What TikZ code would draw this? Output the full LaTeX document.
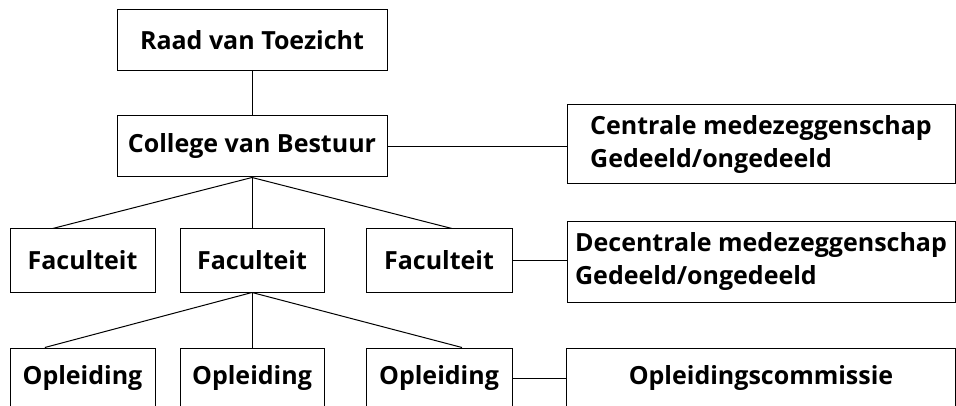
\documentclass[tikz,border=0pt]{standalone}
\usepackage{fontspec}
\setmainfont{Open Sans}
\usepackage{tikz}

\begin{document}
\begin{tikzpicture}[x=1pt,y=-1pt,
    kast/.style={draw,line width=1pt,minimum height=61pt,inner sep=0pt,
      font=\fontsize{25}{33}\selectfont\bfseries},
    lijn/.style={line width=1pt}]
    \clip (0,0) rectangle (956,406);
    \fill[white] (0,0) rectangle (956,406);
  %Bestuur
    \node[kast,minimum width=270pt] (rvt) at (252,40.5) {Raad van Toezicht};
    \node[kast,minimum width=270pt] (cvb) at (252,146.5) {College van Bestuur};
    \node[kast,minimum width=388pt,minimum height=79pt,align=left] (cmz) at (761,144.5)
      {Centrale medezeggenschap\\Gedeeld/ongedeeld};
  %Faculteiten
    \foreach \n/\x/\b in {1/82.5/145,2/252/144,3/439/146}
      \node[kast,minimum width=\b pt,minimum height=63pt] (f\n) at (\x,260.5) {Faculteit};
    \node[kast,minimum width=388pt,minimum height=80pt,align=left] (dmz) at (761,262)
      {Decentrale medezeggenschap\\Gedeeld/ongedeeld};
  %Opleidingen
    \foreach \n/\x/\b in {1/82.5/145,2/252/144,3/439/146}
      \node[kast,minimum width=\b pt,minimum height=60pt] (o\n) at (\x,378) {Opleiding};
    \node[kast,minimum width=389pt,minimum height=60pt] (ocm) at (761,378) {Opleidingscommissie};
  %Lijnen
    \draw[lijn] (rvt) -- (cvb);
    \draw[lijn] (cvb.east) -- (cvb.east -| cmz.west);
    \foreach \n/\a in {1/133,2/90,3/68}
      \draw[lijn] (cvb.south) -- (f\n.\a);
    \draw[lijn] (f3.east) -- (f3.east -| dmz.west);
    \foreach \n/\a in {1/141,2/90,3/53}
      \draw[lijn] (f2.south) -- (o\n.\a);
    \draw[lijn] (o3) -- (ocm);
\end{tikzpicture}
\end{document}
